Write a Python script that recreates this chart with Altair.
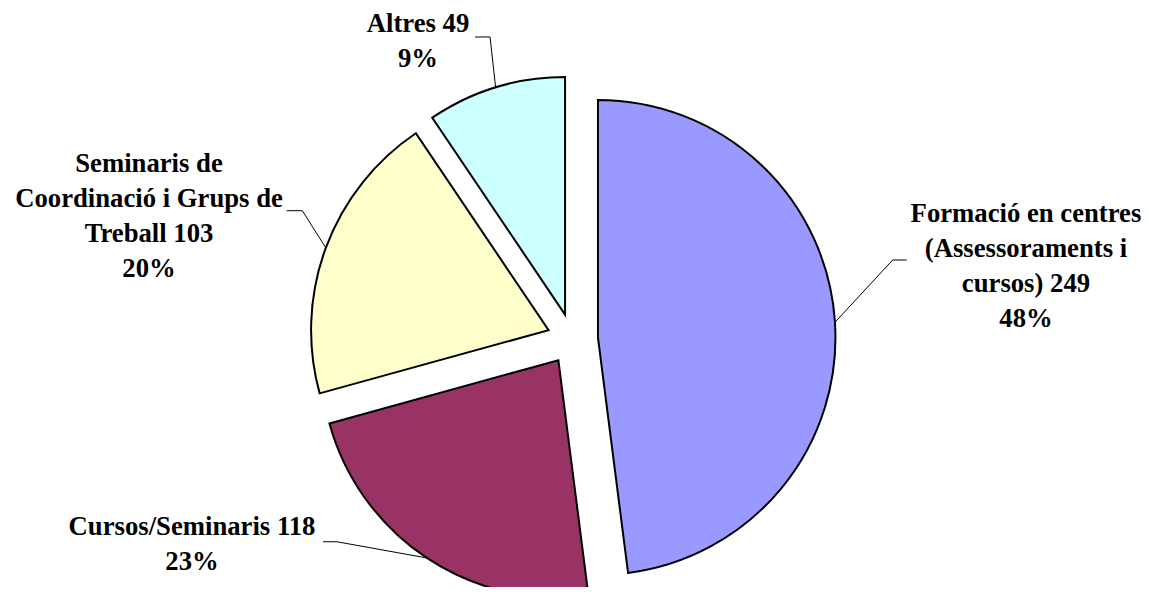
import altair as alt
import pandas as pd

# ---- data ----
categories = ["Formació en centres (Assessoraments i cursos)", "Cursos/Seminaris",
              "Seminaris de Coordinació i Grups de Treball", "Altres"]
values = [249, 118, 103, 49]
label_wraps = ["Formació en centres\n(Assessoraments i\ncursos)", "Cursos/Seminaris",
               "Seminaris de\nCoordinació i Grups de\nTreball", "Altres"]
colors = ["#9999FF", "#993366", "#FFFFCC", "#CCFFFF"]

# ---- layout (pixels) ----
W, H = 1133, 579
CX, CY = 564.5, 331
R = 237.5
EXPLODE = 25.5
elbow_dx = [57.7, -89.8, -23.5, -5.6]
elbow_dy = [-62.3, -16.2, -37.1, -50.5]
stub_len = [14, -14, -15.6, -15]
lab_dx = [133.3, -145, -153.3, -72]
lab_dy = [-38, -6.7, -39.2, -5.3]

df = pd.DataFrame({
    "cat": categories, "value": values, "wrap": label_wraps,
    "order": list(range(len(values))),
    "edx": elbow_dx, "edy": elbow_dy, "stub": stub_len, "ldx": lab_dx, "ldy": lab_dy,
})

base = alt.Chart(df).transform_joinaggregate(
    total="sum(value)"
).transform_window(
    cum="sum(value)", sort=[alt.SortField(field="order", order="ascending")]
).transform_calculate(
    t0="2*PI*(datum.cum - datum.value)/datum.total",
    t1="2*PI*datum.cum/datum.total",
).transform_calculate(
    mid="(datum.t0 + datum.t1)/2",
).transform_calculate(
    cx=f"{CX} + {EXPLODE}*sin(datum.mid)",
    cy=f"{CY} - {EXPLODE}*cos(datum.mid)",
).transform_calculate(
    ax=f"datum.cx + {R}*sin(datum.mid)",
    ay=f"datum.cy - {R}*cos(datum.mid)",
).transform_calculate(
    ex="datum.ax + datum.edx",
    ey="datum.ay + datum.edy",
).transform_calculate(
    sx="datum.ex + datum.stub",
    lx="datum.ex + datum.ldx",
    ly="datum.ey + datum.ldy",
    label="datum.wrap + ' ' + datum.value + '\\n' + round(100*datum.value/datum.total) + '%'",
)

arcs = base.mark_arc(stroke="black", strokeWidth=2, outerRadius=R).encode(
    x=alt.X("cx:Q", scale=None),
    y=alt.Y("cy:Q", scale=None),
    theta=alt.Theta("t0:Q", scale=None),
    theta2=alt.Theta2("t1:Q"),
    color=alt.Color("cat:N", scale=alt.Scale(domain=categories, range=colors), legend=None),
)

lead1 = base.mark_rule(color="black", strokeWidth=1).encode(
    x=alt.X("ax:Q", scale=None), y=alt.Y("ay:Q", scale=None),
    x2="ex:Q", y2="ey:Q",
)
lead2 = base.mark_rule(color="black", strokeWidth=1).encode(
    x=alt.X("ex:Q", scale=None), y=alt.Y("ey:Q", scale=None),
    x2="sx:Q", y2="ey:Q",
)

labels = base.mark_text(
    font="Liberation Serif", fontWeight="bold", fontSize=26.7, lineBreak="\n",
    lineHeight=35, align="center", baseline="alphabetic", color="black",
).encode(
    x=alt.X("lx:Q", scale=None), y=alt.Y("ly:Q", scale=None), text="label:N",
)

chart = alt.layer(arcs, lead1, lead2, labels).properties(
    width=W, height=H, padding=0, autosize=alt.AutoSizeParams(type="none"),
).configure_view(strokeWidth=0)

chart.save("out.html", embed_options={"renderer": "svg", "actions": False})
